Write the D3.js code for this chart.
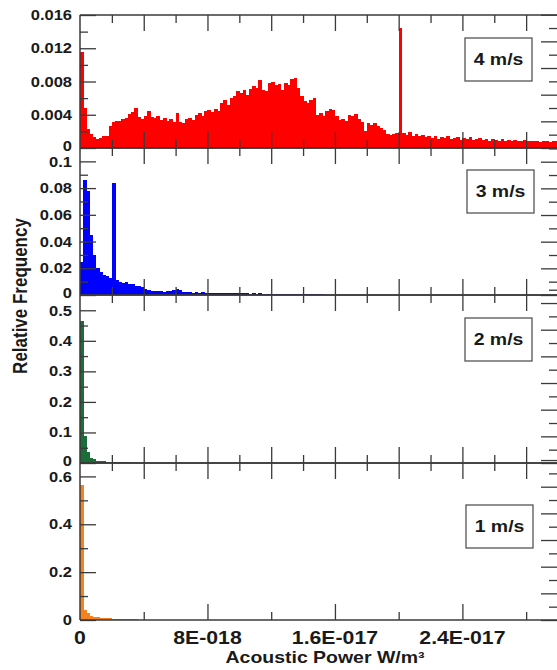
<!DOCTYPE html>
<meta charset="utf-8">
<head>
  <title>Acoustic power histograms</title>
</head>

<style>
body { margin: 0; background: #fff; }
text {
  font-family: Arial, "Liberation Sans", sans-serif;
  font-weight: bold;
  fill: #1a1a1a;
}
rect.bar { shape-rendering: crispEdges; }
</style>

<body>
  <svg width="557" height="670"></svg>

  <script src="https://cdnjs.cloudflare.com/ajax/libs/d3/7.8.5/d3.min.js"></script>
  <script>
// bin width of every histogram (W/m3)
var binWidth = 2e-19

var speeds = ["4 m/s", "3 m/s", "2 m/s", "1 m/s"]
var colors = ["#ff0000", "#0000ff", "#1b6e3a", "#f58220"]

// relative frequency per bin
var freq4 = [0.0116,0.0048,0.0023,0.0017,0.0013,0.0011,0.0012,0.0014,0.0015,0.0027,
  0.0031,0.0033,0.0032,0.0035,0.0036,0.0041,0.0043,0.0048,0.0037,0.0035,
  0.0038,0.0045,0.0037,0.0036,0.0038,0.0034,0.0036,0.0033,0.0035,0.0031,
  0.0042,0.0031,0.0030,0.0035,0.0036,0.0034,0.0040,0.0042,0.0038,0.0044,
  0.0046,0.0043,0.0047,0.0045,0.0054,0.0058,0.0052,0.0060,0.0062,0.0068,
  0.0066,0.0070,0.0064,0.0071,0.0074,0.0072,0.0082,0.0070,0.0068,0.0078,
  0.0079,0.0076,0.0077,0.0070,0.0078,0.0076,0.0083,0.0084,0.0072,0.0063,
  0.0056,0.0054,0.0058,0.0060,0.0040,0.0042,0.0038,0.0045,0.0047,0.0046,
  0.0038,0.0034,0.0035,0.0033,0.0040,0.0038,0.0041,0.0035,0.0031,0.0021,
  0.0030,0.0028,0.0030,0.0026,0.0024,0.0022,0.0017,0.0016,0.0017,0.0018,
  0.0144,0.0018,0.0016,0.0019,0.0015,0.0017,0.0014,0.0016,0.0013,0.0015,
  0.0012,0.0014,0.0011,0.0013,0.0012,0.0014,0.0011,0.0012,0.0013,0.0010,
  0.0012,0.0011,0.0013,0.0010,0.0011,0.0012,0.0010,0.0011,0.0009,0.0011,
  0.0010,0.0009,0.0011,0.0009,0.0010,0.0008,0.0010,0.0009,0.0008,0.0010,
  0.0008,0.0009,0.0008,0.0009,0.0007,0.0009,0.0008,0.0007,0.0009,0.0008]

var freq3 = [0.025,0.086,0.078,0.045,0.030,0.020,0.017,0.015,0.014,0.013,
  0.084,0.011,0.010,0.009,0.0095,0.0085,0.008,0.007,0.0065,0.006,
  0.0045,0.0035,0.003,0.0032,0.0028,0.003,0.0025,0.0028,0.003,0.004,
  0.0048,0.0038,0.0025,0.002,0.0022,0.0018,0.002,0.0017,0.0019,0.0016,
  0.0018,0.0015,0.0017,0.0014,0.0016,0.0013,0.0015,0.0013,0.0014,0.0012,
  0.0014,0.0012,0.0013,0.0011,0.0012,0.0010,0.0012,0.0010,0.0011,0.0009,
  0.0011,0.0009,0.0010,0.0008,0.0010,0.0008,0.0009,0.0008,0.0009,0.0007,
  0.0008,0.0007,0.0008,0.0006,0.0007,0.0005]

var freq2 = [0.465,0.090,0.035,0.018,0.012,0.008,0.006,0.005,0.004,0.004,
  0.003,0.003,0.0025,0.002,0.002,0.0018,0.0016,0.0015,0.0014,0.0013,
  0.0012,0.0011,0.001,0.001,0.0009,0.0008,0.0008,0.0007,0.0006,0.0005]

var freq1 = [0.565,0.042,0.028,0.017,0.014,0.012,0.010,0.009,0.008,0.007,
  0.006,0.005,0.005,0.004,0.004,0.003,0.003,0.003,0.002,0.002,
  0.002,0.0015,0.0015,0.0014,0.0013,0.0012,0.0011,0.001,0.001,0.0009,
  0.0008,0.0008,0.0007,0.0007,0.0006,0.0006,0.0005,0.0005,0.0004,0.0004]

// tick labels
var xTickValues = [0, 8e-18, 1.6e-17, 2.4e-17]
var xTickLabels = ["0", "8E-018", "1.6E-017", "2.4E-017"]
var yTicks4 = [0, 0.004, 0.008, 0.012, 0.016]
var yTicks3 = [0, 0.02, 0.04, 0.06, 0.08, 0.1]
var yTicks2 = [0, 0.1, 0.2, 0.3, 0.4, 0.5]
var yTicks1 = [0, 0.2, 0.4, 0.6]

// layout of the stacked panels
var left = 80, right = 558
var sx = 1.18   // the picture is slightly stretched sideways
var ink = "#3a3a3a"

var panels = [
  {values: freq4, yTicks: yTicks4, yMax: 0.016, top: 15,  bottom: 148, box: [465, 38]},
  {values: freq3, yTicks: yTicks3, yMax: 0.11,  top: 148, bottom: 295, box: [467, 170]},
  {values: freq2, yTicks: yTicks2, yMax: 0.55,  top: 295, bottom: 463, box: [465, 318]},
  {values: freq1, yTicks: yTicks1, yMax: 0.656, top: 463, bottom: 620, box: [466, 505]}
]

var svg = d3.select("svg")
var x = d3.scaleLinear().domain([0, 3e-17]).range([left, right])

function label(g, px, py, txt, size, anchor) {
  return g.append("text")
    .attr("transform", "translate(" + px + "," + py + ") scale(" + sx + ",1)")
    .attr("text-anchor", anchor)
    .style("font-size", size + "px")
    .text(txt)
}

function styleAxis(sel) {
  sel.select(".domain").remove()
  sel.selectAll("line").attr("stroke", ink).attr("stroke-width", 1.3)
  sel.selectAll("text").remove()
}

var fmt = d3.format("~g")

panels.forEach(function(p, k) {
  var y = d3.scaleLinear().domain([0, p.yMax]).range([p.bottom, p.top])
  var g = svg.append("g")
  var last = k == panels.length - 1

  // histogram bars
  g.selectAll("rect.bar")
    .data(p.values)
    .join("rect")
    .attr("class", "bar")
    .attr("x", function(d, i) { return x(i * binWidth) })
    .attr("width", x(binWidth) - x(0) + 0.5)
    .attr("y", function(d) { return y(d) })
    .attr("height", function(d) { return y(0) - y(d) })
    .attr("fill", colors[k])

  // left axis, ticks pointing in
  var step = p.yTicks[1] - p.yTicks[0]
  var minor = d3.range(step / 2, p.yMax - 1e-9, step)
  g.append("g").attr("transform", "translate(" + left + ",0)")
    .call(d3.axisRight(y).tickValues(minor).tickSize(8)).call(styleAxis)
  g.append("g").attr("transform", "translate(" + left + ",0)")
    .call(d3.axisRight(y).tickValues(p.yTicks).tickSize(16)).call(styleAxis)

  // zero labels sit a little high, top labels a little low, as in the picture
  p.yTicks.forEach(function(v, i) {
    var dy = 5
    if (v == 0 && !last) dy = 3
    if (i == p.yTicks.length - 1 && k > 0) dy = 6
    label(g, left - 8, y(v) + dy, fmt(v), 14, "end")
  })

  // right side ticks, evenly spaced
  var n = Math.round((p.bottom - p.top) / 13.33)
  var r = d3.scaleLinear().domain([0, n]).range([p.bottom, p.bottom - n * 13.33])
  var rt = d3.range(0, n + 1)
  g.append("g").attr("transform", "translate(" + right + ",0)")
    .call(d3.axisLeft(r).tickValues(rt.filter(function(t) { return t % 2 == 0 })).tickSize(17)).call(styleAxis)
  g.append("g").attr("transform", "translate(" + right + ",0)")
    .call(d3.axisLeft(r).tickValues(rt.filter(function(t) { return t % 2 == 1 })).tickSize(9)).call(styleAxis)

  // top edge ticks, pointing down
  g.append("g").attr("transform", "translate(0," + p.top + ")")
    .call(d3.axisTop(x).tickValues(d3.range(1, 8).map(function(t) { return t * 4e-18 })).tickSize(-16)).call(styleAxis)
  g.append("g").attr("transform", "translate(0," + p.top + ")")
    .call(d3.axisTop(x).tickValues(d3.range(0, 8).map(function(t) { return 2e-18 + t * 4e-18 })).tickSize(-8)).call(styleAxis)

  // bottom edge ticks, pointing up
  var big = last ? 8e-18 : 4e-18
  g.append("g").attr("transform", "translate(0," + p.bottom + ")")
    .call(d3.axisBottom(x).tickValues(d3.range(1, 4e-17 / big).map(function(t) { return t * big }).filter(function(v) { return v < 3e-17 })).tickSize(-16)).call(styleAxis)
  g.append("g").attr("transform", "translate(0," + p.bottom + ")")
    .call(d3.axisBottom(x).tickValues(d3.range(0, 4e-17 / big).map(function(t) { return big / 2 + t * big }).filter(function(v) { return v < 3e-17 })).tickSize(-8)).call(styleAxis)

  // frame
  g.append("line").attr("x1", left).attr("x2", right).attr("y1", p.bottom).attr("y2", p.bottom)
    .attr("stroke", ink).attr("stroke-width", 1.5)
  g.append("line").attr("x1", left).attr("x2", right).attr("y1", p.top).attr("y2", p.top)
    .attr("stroke", ink).attr("stroke-width", 1.5)

  // speed box
  g.append("rect")
    .attr("x", p.box[0]).attr("y", p.box[1])
    .attr("width", 67).attr("height", 43)
    .attr("fill", "#fff").attr("stroke", "#555").attr("stroke-width", 1.3)
  label(g, p.box[0] + 33.5, p.box[1] + 27, speeds[k], 16.5, "middle")
})

// vertical frame lines
svg.append("line").attr("x1", left).attr("x2", left).attr("y1", 15).attr("y2", 620)
  .attr("stroke", ink).attr("stroke-width", 1.5)
svg.append("line").attr("x1", right).attr("x2", right).attr("y1", 15).attr("y2", 620)
  .attr("stroke", ink).attr("stroke-width", 1.5)

// x tick labels and titles
xTickValues.forEach(function(v, i) {
  label(svg, x(v), 644, xTickLabels[i], 18, "middle")
})
label(svg, 325, 663, "Acoustic Power W/m³", 16.5, "middle")

svg.append("text")
  .attr("transform", "translate(26.5,296) scale(" + sx + ",1) rotate(-90)")
  .attr("text-anchor", "middle")
  .style("font-size", "17px")
  .text("Relative Frequency")
  </script>
</body>
</html>
